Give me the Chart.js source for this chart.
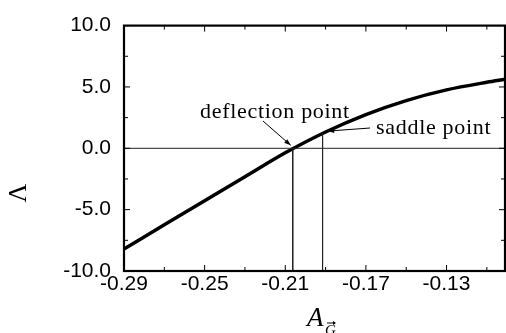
<!DOCTYPE html>
<html>
<head>
<meta charset="utf-8">
<script src="https://cdn.jsdelivr.net/npm/chart.js@4.4.0/dist/chart.umd.min.js"></script>
<style>
  html, body { margin: 0; padding: 0; background: #fff; }
  #wrap { width: 506px; height: 333px; }
</style>
</head>
<body>
<div id="wrap"><canvas id="chart" width="506" height="333"></canvas></div>
<script>
'use strict';
// кривая Λ(A_G)
const agValues = [-0.29, -0.27, -0.25, -0.23, -0.21, -0.19, -0.17, -0.15, -0.13, -0.11, -0.101];
const lambdaValues = [-8.2, -6.24, -4.28, -2.32, -0.37, 1.33, 2.75, 3.89, 4.76, 5.38, 5.62];

// особые точки
const deflectionX = -0.2063;
const saddleX = -0.1915;
const saddleY = 1.2;

// подписи осей
const xTicks = [-0.29, -0.25, -0.21, -0.17, -0.13];
const xMinorTicks = [-0.27, -0.23, -0.19, -0.15, -0.11];
const yTicks = [-10, -5, 0, 5, 10];
const yMinorTicks = [-7.5, -2.5, 2.5, 7.5];
const xMin = -0.29, xMax = -0.101;

const curve = agValues.map((x, i) => ({ x: x, y: lambdaValues[i] }));

const thin = { borderColor: '#222', borderWidth: 1, pointRadius: 0, fill: false, tension: 0 };

const decorPlugin = {
    id: 'decor',
    afterDatasetsDraw(chart) {
        const ctx = chart.ctx;
        const a = chart.chartArea;
        const xs = chart.scales.x, ys = chart.scales.y;
        ctx.save();
        // рамка
        ctx.strokeStyle = '#000';
        ctx.lineWidth = 2.2;
        ctx.strokeRect(a.left, a.top, a.right - a.left, a.bottom - a.top);
        // засечки внутрь
        ctx.lineWidth = 1;
        ctx.beginPath();
        const tickX = (v, len) => {
            const p = xs.getPixelForValue(v);
            ctx.moveTo(p, a.bottom); ctx.lineTo(p, a.bottom - len);
            ctx.moveTo(p, a.top); ctx.lineTo(p, a.top + len);
        };
        const tickY = (v, len) => {
            const p = ys.getPixelForValue(v);
            ctx.moveTo(a.left, p); ctx.lineTo(a.left + len, p);
            ctx.moveTo(a.right, p); ctx.lineTo(a.right - len, p);
        };
        xTicks.forEach(v => tickX(v, 6));
        xMinorTicks.forEach(v => tickX(v, 4));
        yTicks.forEach(v => tickY(v, 6));
        yMinorTicks.forEach(v => tickY(v, 4));
        ctx.stroke();

        // подписи
        ctx.fillStyle = '#000';
        ctx.font = '22px "Liberation Serif", serif';
        ctx.letterSpacing = '0.7px';
        ctx.textBaseline = 'alphabetic';
        ctx.fillText('deflection point', 200, 118);
        ctx.fillText('saddle point', 376, 134);
        ctx.letterSpacing = '0px';

        const arrow = (x1, y1, x2, y2) => {
            ctx.beginPath();
            ctx.moveTo(x1, y1); ctx.lineTo(x2, y2);
            ctx.stroke();
            const ang = Math.atan2(y2 - y1, x2 - x1);
            ctx.beginPath();
            ctx.moveTo(x2, y2);
            ctx.lineTo(x2 - 7 * Math.cos(ang - 0.35), y2 - 7 * Math.sin(ang - 0.35));
            ctx.lineTo(x2 - 7 * Math.cos(ang + 0.35), y2 - 7 * Math.sin(ang + 0.35));
            ctx.closePath();
            ctx.fill();
        };
        ctx.lineWidth = 1;
        const dx = xs.getPixelForValue(deflectionX), dy = ys.getPixelForValue(0);
        arrow(263, 121, dx - 2, dy - 3);
        const sx = xs.getPixelForValue(saddleX), sy = ys.getPixelForValue(saddleY + 0.2);
        arrow(370, 128, sx + 5, sy);

        // Λ
        ctx.save();
        ctx.translate(19, 193);
        ctx.rotate(-Math.PI / 2);
        ctx.font = '26px "Liberation Serif", serif';
        ctx.textAlign = 'center';
        ctx.textBaseline = 'middle';
        ctx.fillText('Λ', 0, 0);
        ctx.restore();

        // A_G
        ctx.font = 'italic 27px "Liberation Serif", serif';
        ctx.textAlign = 'left';
        ctx.fillText('A', 307, 326);
        ctx.font = 'italic 15px "Liberation Serif", serif';
        ctx.fillText('G', 325, 335);
        ctx.beginPath();
        ctx.moveTo(327, 323); ctx.lineTo(335, 323);
        ctx.stroke();
        ctx.beginPath();
        ctx.moveTo(336, 323); ctx.lineTo(333, 321); ctx.lineTo(333, 325);
        ctx.closePath();
        ctx.fill();
        ctx.restore();
    }
};

new Chart(document.getElementById('chart').getContext('2d'), {
    type: 'scatter',
    data: {
        datasets: [
            Object.assign({ data: [{ x: xMin, y: 0 }, { x: xMax, y: 0 }], showLine: true }, thin),
            Object.assign({ data: [{ x: deflectionX, y: 0 }, { x: deflectionX, y: -10 }], showLine: true }, thin),
            Object.assign({ data: [{ x: saddleX, y: saddleY }, { x: saddleX, y: -10 }], showLine: true }, thin),
            {
                data: curve,
                showLine: true,
                borderColor: '#000',
                borderWidth: 3.5,
                pointRadius: 0,
                cubicInterpolationMode: 'monotone'
            }
        ]
    },
    options: {
        responsive: false,
        animation: false,
        events: [],
        layout: { padding: { top: 19, right: 1, left: 0, bottom: 0 } },
        plugins: { legend: { display: false }, tooltip: { enabled: false } },
        scales: {
            x: {
                type: 'linear',
                min: xMin,
                max: xMax,
                grid: { display: false, drawTicks: false },
                border: { display: false },
                afterBuildTicks: s => { s.ticks = xTicks.map(v => ({ value: v })); },
                afterFit: s => { s.height = 62; },
                ticks: {
                    padding: 1,
                    color: '#000',
                    font: { family: '"Liberation Sans", Arial, sans-serif', size: 21 },
                    maxRotation: 0,
                    callback: v => v.toFixed(2)
                }
            },
            y: {
                min: -10,
                max: 10,
                grid: { display: false, drawTicks: false },
                border: { display: false },
                afterBuildTicks: s => { s.ticks = yTicks.map(v => ({ value: v })); },
                afterFit: s => { s.width = 124; },
                ticks: {
                    padding: 13,
                    color: '#000',
                    font: { family: '"Liberation Sans", Arial, sans-serif', size: 21 },
                    callback: v => v.toFixed(1)
                }
            }
        }
    },
    plugins: [decorPlugin]
});
</script>
</body>
</html>
